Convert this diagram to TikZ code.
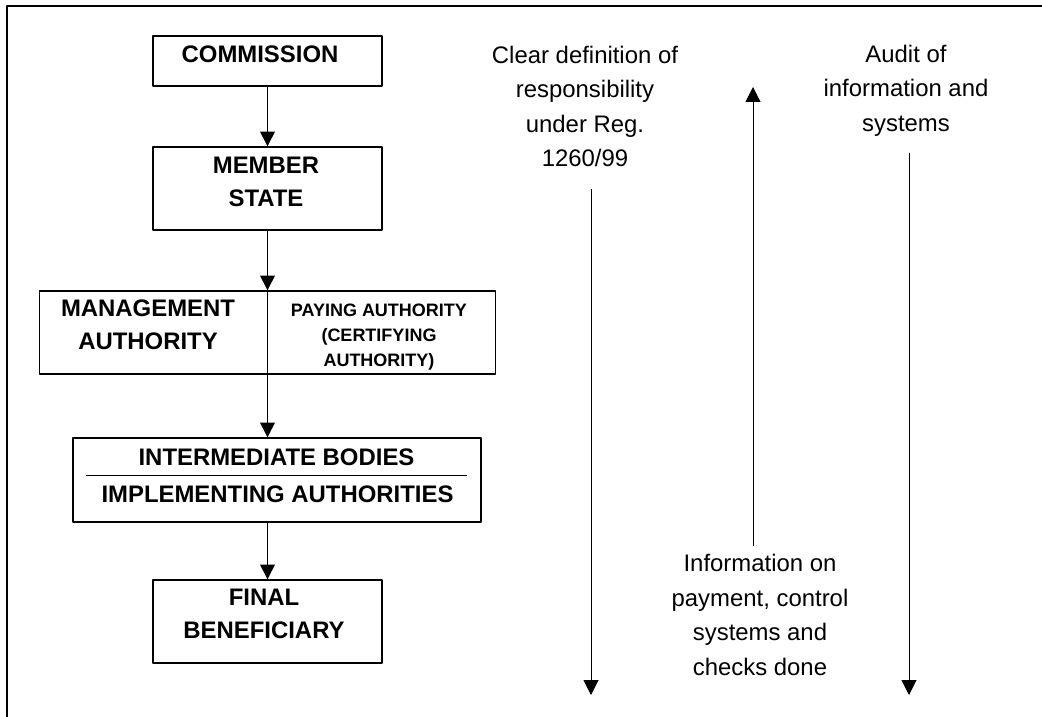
\documentclass[tikz,border=0pt]{standalone}
\usepackage{fontspec}
\setmainfont{Liberation Sans}
\usetikzlibrary{arrows.meta}
\tikzset{
  box/.style={draw, line width=0.9pt, minimum width=5.725cm, minimum height=2.075cm, inner sep=0pt},
  btxt/.style={font=\fontsize{17}{23.5}\selectfont\bfseries, align=center, inner sep=0pt},
  stxt/.style={font=\fontsize{12.8}{17.8}\selectfont\bfseries, align=center, inner sep=0pt},
  ntxt/.style={font=\fontsize{17}{24.6}\selectfont, align=center, inner sep=0pt},
  arr/.style={-{Triangle[width=0.37cm,length=0.37cm]}, line width=0.7pt},
}
\begin{document}
\begin{tikzpicture}[x=0.025cm, y=-0.025cm, line join=round]
  \useasboundingbox (0,0) rectangle (1042,717);
  % frame
  \draw[line width=1.4pt] (7,717) -- (7,6) -- (1042,6);
  % chain of bodies
  \node[box, minimum height=1.25cm] (comm) at (267.5,61) {};
  \node[btxt] (commt) at (260,54) {COMMISSION};
  \node[box] (memb) at (267.5,188.5) {};
  \node[btxt] (membt) at (266,182) {MEMBER\\STATE};
  \node[box, minimum width=11.4cm] (mgmt) at (267.5,332.5) {};
  \node[btxt] (mgmtt) at (148,325) {MANAGEMENT\\AUTHORITY};
  \node[stxt] (payt) at (379,337) {PAYING AUTHORITY\\(CERTIFYING\\AUTHORITY)};
  \draw[line width=0.9pt] (mgmt.north) -- (mgmt.south);
  \node[box, minimum width=10.2cm, minimum height=2.1cm] (inter) at (277,480) {};
  \node[btxt] (intera) at (276.5,457) {INTERMEDIATE BODIES};
  \node[btxt] (interb) at (277.5,494) {IMPLEMENTING AUTHORITIES};
  \draw[line width=0.7pt] (86,475) -- (467,475);
  \node[box] (fin) at (267.5,621.5) {};
  \node[btxt] (fint) at (264,614) {FINAL\\BENEFICIARY};
  \draw[arr] (comm) -- (memb);
  \draw[arr] (memb) -- (mgmt);
  \draw[arr] (mgmt.south) -- (mgmt.south |- inter.north);
  \draw[arr] (inter.south -| fin.north) -- (fin.north);
  % flows of responsibility and information
  \node[ntxt] (def) at (585,106.5) {Clear definition of\\responsibility\\under Reg.\\1260/99};
  \node[ntxt] (audit) at (906,90.5) {Audit of\\information and\\systems};
  \node[ntxt] (info) at (760,615) {Information on\\payment, control\\systems and\\checks done};
  \coordinate (defbot) at (591,695);
  \coordinate (audbot) at (909,695);
  \coordinate (uptop) at (753,87);
  \draw[arr] ([yshift=-0.55cm]def.south -| defbot) -- (defbot);
  \draw[arr] ([yshift=-0.4cm]audit.south -| audbot) -- (audbot);
  \draw[arr] ([yshift=0.2cm]info.north -| uptop) -- (uptop);
\end{tikzpicture}
\end{document}
